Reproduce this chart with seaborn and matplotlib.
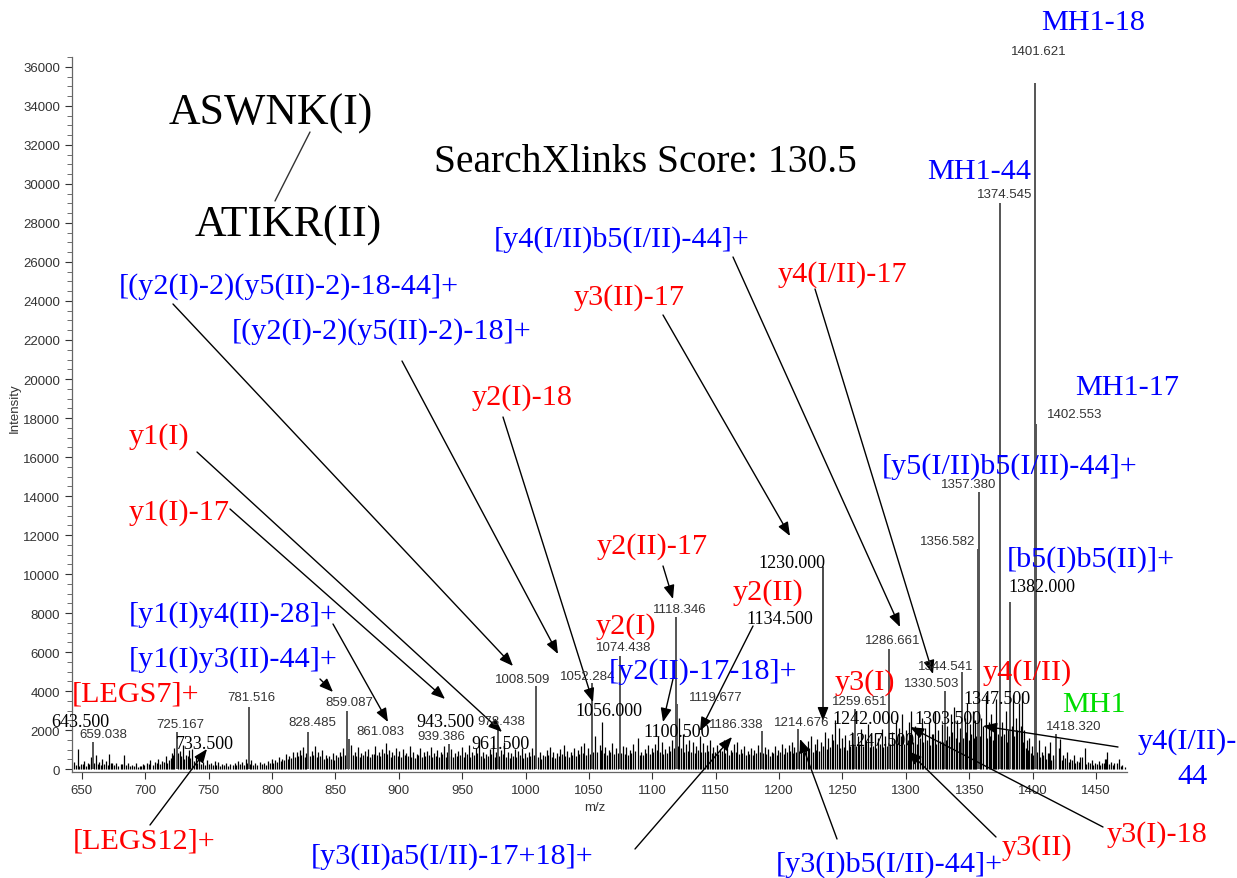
import matplotlib.pyplot as plt
import numpy as np
import pandas as pd
import seaborn as sns

# labelled peaks of the spectrum (m/z, intensity)
peak_mz = [659.038, 725.167, 781.516, 828.485, 859.087, 861.083, 939.386, 978.438,
           1008.509, 1052.284, 1074.438, 1118.346, 1119.677, 1186.338, 1214.676,
           1259.651, 1286.661, 1330.503, 1344.541, 1356.582, 1357.380, 1374.545,
           1382.000, 1401.621, 1402.553, 1418.320]
peak_int = [1380, 1900, 3180, 1900, 2970, 1540, 1280, 2050,
            4250, 4400, 5800, 7800, 3330, 1950, 2050,
            3080, 6150, 4000, 5000, 11300, 14200, 29000,
            8560, 35200, 17700, 1800]

# unlabelled background peaks
noise_mz = [644.2, 646.8, 649.5, 652.1, 655.3, 657.0, 661.4, 663.8, 666.2, 668.9, 671.7, 674.0,
            677.2, 680.6, 683.4, 686.1, 689.5, 692.8, 695.6, 698.3,
            701.5, 704.2, 707.8, 710.3, 713.6, 716.2, 718.9, 721.3, 723.0, 727.4, 729.8, 732.2,
            734.5, 736.9, 739.8, 742.5, 745.6, 748.4, 751.7, 754.9, 757.6, 760.8, 764.0, 767.3,
            770.5, 773.1, 776.4, 779.2, 783.8, 786.5, 790.2, 793.6, 796.9, 799.8,
            802.4, 805.6, 808.3, 811.0, 813.7, 816.4, 819.5, 822.1, 824.6, 826.9, 831.2, 833.8,
            836.5, 839.7, 842.3, 845.1, 848.0, 850.6, 853.4, 856.2, 862.7, 865.3, 867.9, 870.4,
            873.2, 876.0, 878.8, 881.5, 884.1, 886.9, 889.6, 892.3, 895.0, 897.8,
            900.5, 903.2, 906.0, 908.7, 911.4, 914.1, 916.9, 919.6, 922.3, 925.1, 927.8, 930.4,
            933.1, 935.8, 938.0, 941.6, 944.3, 947.0, 949.7, 952.5, 955.2, 958.0, 960.7, 963.4,
            966.1, 968.8, 971.6, 974.3, 977.0, 980.7, 983.4, 986.1, 988.8, 991.5, 994.2, 997.0, 999.7,
            1002.4, 1005.1, 1011.2, 1013.9, 1016.6, 1019.3, 1022.0, 1024.8, 1027.5, 1030.2, 1032.9,
            1035.6, 1038.3, 1041.0, 1043.7, 1046.4, 1049.1, 1055.0, 1058.4, 1060.3, 1063.0, 1065.7,
            1068.4, 1071.1, 1076.8, 1079.5, 1082.2, 1084.9, 1088.6, 1091.3, 1094.0, 1096.7, 1099.4,
            1102.1, 1104.8, 1107.5, 1110.2, 1112.9, 1115.6, 1121.3, 1123.9, 1126.6, 1129.3, 1132.0,
            1134.7, 1137.4, 1140.1, 1142.8, 1145.5, 1148.2, 1150.9, 1153.6, 1156.3, 1159.0, 1161.7,
            1164.4, 1167.1, 1169.8, 1172.5, 1175.2, 1177.9, 1180.6, 1183.3, 1188.7, 1191.4, 1194.1,
            1196.8, 1199.5,
            1202.2, 1204.9, 1207.6, 1210.3, 1212.1, 1217.2, 1219.9, 1222.6, 1225.3, 1228.0, 1230.2,
            1233.4, 1236.1, 1238.8, 1241.5, 1244.2, 1246.9, 1249.6, 1252.3, 1255.0, 1257.3, 1262.0,
            1264.7, 1267.4, 1270.1, 1272.8, 1275.5, 1278.2, 1280.9, 1283.6, 1289.2, 1291.9, 1294.6,
            1297.3, 1300.0,
            1302.7, 1304.4, 1307.1, 1309.8, 1312.5, 1315.2, 1317.9, 1320.6, 1322.8, 1325.5, 1328.2,
            1332.6, 1335.3, 1338.0, 1340.7, 1342.6, 1346.3, 1348.4, 1350.7, 1352.6, 1354.6, 1359.5,
            1362.8, 1365.5, 1367.2, 1369.6, 1371.4, 1376.2, 1378.6, 1380.3, 1384.6, 1386.5, 1389.4,
            1391.6, 1393.5, 1395.8, 1397.4, 1399.3,
            1404.8, 1407.2, 1409.4, 1411.9, 1413.5, 1416.1, 1420.4, 1421.6, 1424.3, 1427.0, 1429.6,
            1432.3, 1435.0, 1437.7, 1441.0, 1443.8, 1446.5, 1449.2, 1452.0, 1454.7, 1457.3, 1459.0,
            1461.8, 1464.5, 1468.0, 1470.8]
noise_int = [350, 1050, 250, 420, 300, 600, 700, 350, 520, 420, 750, 300,
             320, 260, 700, 330, 220, 300, 180, 260,
             300, 450, 350, 520, 400, 650, 480, 820, 1100, 950, 1250, 700,
             980, 1050, 600, 500, 380, 450, 300, 420, 350, 280, 330, 260,
             300, 420, 350, 500, 450, 300, 380, 330, 420, 500,
             450, 600, 520, 750, 680, 900, 850, 1000, 1150, 800, 950, 1200,
             850, 1000, 700, 650, 820, 700, 900, 1100, 1250, 900, 1150, 800,
             950, 1050, 750, 1200, 900, 1050, 1350, 1000, 850, 1100,
             950, 1050, 800, 1200, 900, 750, 1100, 850, 950, 1150, 800, 1000,
             900, 1200, 850, 1050, 800, 950, 1150, 900, 1250, 850, 1100, 1550,
             900, 750, 1050, 1250, 900, 1000, 1400, 850, 800, 1050, 950, 1100, 800,
             900, 1100, 850, 700, 1000, 1150, 850, 800, 1050, 1250, 950,
             900, 1100, 1000, 1200, 1350, 1100, 1700, 1250, 2400, 1150, 1000,
             1350, 1100, 1200, 1150, 1000, 1300, 1600, 900, 1050, 1250, 1100,
             1300, 1700, 1400, 1050, 1200, 1500, 2600, 1800, 1300, 1500, 1400,
             1200, 1700, 1350, 1250, 1500, 1150, 1250, 1050, 1500, 1100, 1000,
             1300, 1400, 1050, 1200, 950, 1100, 1000, 1250, 1150, 1050, 900,
             1200, 1000,
             1300, 1100, 1250, 1400, 1150, 1300, 1150, 1450, 1700, 1300, 1550,
             1400, 1900, 1600, 1800, 2500, 2100, 1600, 1750, 1500, 1900, 1700,
             2050, 1800, 2300, 1700, 1850, 1600, 2050, 1700, 1900, 2500, 2100,
             2800, 2000,
             2400, 3000, 2200, 1900, 2600, 2100, 2400, 1800, 3000, 2000, 2300,
             2200, 2800, 3200, 2500, 2100, 2600, 3400, 2300, 3000, 2500, 2600,
             3800, 2400, 2800, 2200, 3600, 2400, 3000, 2000, 3800, 2600, 3400,
             3900, 2000, 1500, 1600, 1200,
             1500, 900, 1200, 800, 1400, 700, 1100, 1530, 700, 900, 500,
             700, 400, 600, 1100, 350, 450, 300, 400, 300, 500, 850,
             350, 300, 500, 200]

# low "grass" between the background peaks, as (m/z, intensity)
grass = [(645.5, 200), (648.0, 150), (650.8, 280), (653.7, 180), (656.1, 250), (659.9, 300),
         (662.6, 250), (665.0, 220), (667.5, 280), (670.3, 200), (672.8, 300), (675.6, 200),
         (678.9, 180), (682.0, 250), (684.7, 220), (687.8, 180), (691.1, 150), (694.2, 130),
         (697.0, 160), (699.2, 200),
         (703.0, 250), (706.0, 200), (709.0, 300), (712.0, 250), (715.0, 380), (717.5, 300),
         (720.1, 550), (722.2, 700), (725.8, 800), (728.6, 650), (731.0, 500), (733.4, 650),
         (735.7, 550), (738.3, 400), (741.2, 320), (744.0, 280), (747.0, 220), (750.0, 250),
         (753.3, 200), (756.2, 220), (759.2, 180), (762.4, 200), (765.6, 170), (768.9, 190),
         (771.8, 210), (774.8, 260), (777.8, 220), (780.4, 300), (782.6, 260), (785.1, 220),
         (788.3, 230), (791.9, 250), (795.2, 210), (798.4, 300),
         (801.1, 300), (804.0, 380), (807.0, 420), (809.6, 450), (812.3, 520), (815.0, 560),
         (818.0, 620), (820.8, 650), (823.3, 720), (825.8, 600), (829.9, 650), (832.5, 720),
         (835.2, 600), (838.1, 650), (841.0, 520), (843.7, 550), (846.5, 500), (849.3, 480),
         (852.0, 600), (854.8, 650), (857.8, 700), (860.2, 850), (864.0, 700), (866.6, 650),
         (869.1, 620), (871.8, 700), (874.6, 650), (877.4, 600), (880.1, 750), (882.8, 700),
         (885.5, 650), (888.2, 800), (890.9, 750), (893.6, 620), (896.4, 700), (899.1, 650),
         (901.8, 600), (904.6, 700), (907.3, 650), (910.0, 600), (912.7, 550), (915.5, 700),
         (918.2, 600), (920.9, 650), (923.7, 700), (926.4, 600), (929.1, 650), (931.7, 600),
         (934.4, 750), (936.9, 600), (939.9, 650), (942.9, 600), (945.6, 650), (948.3, 700),
         (951.1, 600), (953.8, 750), (956.6, 600), (959.3, 700), (962.0, 800), (964.7, 650),
         (967.4, 550), (970.2, 650), (972.9, 750), (975.6, 600), (978.9, 650), (982.0, 750),
         (984.7, 600), (987.4, 550), (990.1, 650), (992.8, 600), (995.6, 700), (998.3, 550),
         (1001.0, 600), (1003.7, 650), (1006.5, 700), (1009.8, 600), (1012.5, 500), (1015.2, 650),
         (1017.9, 700), (1020.6, 600), (1023.4, 550), (1026.1, 650), (1028.8, 750), (1031.5, 650),
         (1034.2, 600), (1036.9, 700), (1039.6, 650), (1042.3, 750), (1045.0, 800), (1047.7, 700),
         (1050.5, 750), (1053.5, 900), (1056.7, 850), (1059.3, 1000), (1061.6, 800), (1064.3, 700),
         (1067.0, 850), (1069.7, 750), (1072.6, 800), (1075.5, 800), (1078.1, 750), (1080.8, 700),
         (1083.5, 800), (1086.7, 950), (1089.9, 700), (1092.6, 700), (1095.3, 800), (1098.0, 750),
         (1100.7, 850), (1103.4, 1000), (1106.1, 900), (1108.8, 750), (1111.5, 800), (1114.2, 950),
         (1117.0, 1100), (1120.5, 1200), (1122.6, 1100), (1125.2, 900), (1127.9, 950), (1130.6, 900),
         (1133.3, 800), (1136.0, 1000), (1138.7, 900), (1141.4, 850), (1144.1, 950), (1146.8, 800),
         (1149.5, 850), (1152.2, 750), (1154.9, 950), (1157.6, 800), (1160.3, 700), (1163.0, 850),
         (1165.7, 900), (1168.4, 750), (1171.1, 800), (1173.8, 700), (1176.5, 750), (1179.2, 700),
         (1182.0, 800), (1185.0, 850), (1187.5, 800), (1190.0, 750), (1192.7, 650), (1195.4, 800),
         (1198.1, 700),
         (1200.8, 850), (1203.5, 750), (1206.2, 850), (1208.9, 950), (1211.2, 800), (1213.5, 900),
         (1215.8, 950), (1218.5, 850), (1221.2, 1000), (1223.9, 1100), (1226.6, 900), (1229.1, 1000),
         (1231.8, 950), (1234.7, 1200), (1237.4, 1050), (1240.1, 1150), (1242.8, 1500), (1245.5, 1300),
         (1248.2, 1100), (1250.9, 1150), (1253.6, 1000), (1256.1, 1200), (1258.5, 1300), (1260.8, 1200),
         (1263.3, 1300), (1266.0, 1200), (1268.7, 1450), (1271.4, 1150), (1274.1, 1200), (1276.8, 1100),
         (1279.5, 1300), (1282.2, 1150), (1285.0, 1200), (1287.8, 1300), (1290.5, 1500), (1293.2, 1350),
         (1295.9, 1700), (1298.6, 1300),
         (1301.3, 1500), (1303.5, 1800), (1305.7, 1400), (1308.4, 1300), (1311.1, 1600), (1313.8, 1400),
         (1316.5, 1500), (1319.2, 1250), (1321.7, 1800), (1324.1, 1300), (1326.8, 1450), (1329.4, 1400),
         (1331.4, 1500), (1334.0, 1700), (1336.6, 1900), (1339.3, 1600), (1341.6, 1400), (1343.5, 1700),
         (1345.3, 1600), (1347.3, 1900), (1349.5, 1500), (1351.6, 1800), (1353.6, 1600), (1355.5, 1700),
         (1358.4, 1700), (1361.1, 2200), (1364.1, 1600), (1366.3, 1700), (1368.4, 1500), (1370.5, 2100),
         (1373.0, 1800), (1375.3, 1700), (1377.4, 1800), (1379.5, 1400), (1381.2, 1500), (1383.4, 2200),
         (1385.6, 1700), (1388.0, 2000), (1390.5, 2200), (1392.5, 1400), (1394.6, 1100), (1396.6, 1000),
         (1398.3, 800),
         (1400.5, 700), (1403.6, 900), (1406.0, 600), (1408.3, 700), (1410.6, 500), (1412.7, 800),
         (1414.8, 450), (1418.0, 500), (1423.0, 450), (1425.6, 550), (1428.3, 350), (1431.0, 450),
         (1433.6, 300), (1436.4, 350), (1439.3, 600), (1442.4, 250), (1445.1, 300), (1447.8, 200),
         (1450.6, 250), (1453.3, 200), (1456.0, 300), (1458.1, 500), (1460.4, 250), (1463.1, 200),
         (1466.2, 300), (1469.4, 150), (1472.5, 120)]

# peak labels written by the acquisition software
soft_labels = ["1401.621", "1374.545", "1402.553", "1357.380", "1356.582", "1286.661",
               "1344.541", "1330.503", "1259.651", "1418.320", "1118.346", "1074.438",
               "1008.509", "1052.284", "1119.677", "1186.338", "1214.676", "978.438",
               "939.386", "659.038", "725.167", "781.516", "828.485", "859.087", "861.083"]
# m/z values typed in by the author
typed_labels = ["643.500", "733.500", "943.500", "961.500", "1056.000", "1100.500",
                "1134.500", "1230.000", "1242.000", "1247.500", "1303.500", "1347.500",
                "1382.000"]
# fragment assignments
blue_labels = ["[(y2(I)-2)(y5(II)-2)-18-44]+", "[(y2(I)-2)(y5(II)-2)-18]+",
               "[y4(I/II)b5(I/II)-44]+", "MH1-18", "MH1-44", "MH1-17",
               "[y5(I/II)b5(I/II)-44]+", "[b5(I)b5(II)]+", "y4(I/II)-", "44",
               "[y1(I)y4(II)-28]+", "[y1(I)y3(II)-44]+", "[y2(II)-17-18]+",
               "[y3(II)a5(I/II)-17+18]+", "[y3(I)b5(I/II)-44]+"]
red_labels = ["y4(I/II)-17", "y3(II)-17", "y2(I)-18", "y1(I)", "y1(I)-17", "y2(II)-17",
              "y2(I)", "y2(II)", "y3(I)", "y4(I/II)", "[LEGS7]+", "[LEGS12]+",
              "y3(II)", "y3(I)-18"]
green_labels = ["MH1"]

W, H = 1237, 879

# label positions, image pixels (x, y from top)
soft_pos = [(1039, 52), (1005, 195), (1075, 415), (969, 485), (948, 542), (893, 641),
            (946, 667), (932, 684), (860, 702), (1074, 727), (680, 610), (624, 648),
            (523, 680), (588, 677), (716, 698), (736, 725), (802, 723), (501, 722),
            (441, 737), (103, 735), (180, 725), (251, 698), (312, 723), (349, 703), (380, 732)]
typed_pos = [(80, 723), (205, 745), (445, 723), (501, 745), (609, 712), (677, 733),
             (780, 620), (792, 563), (866, 720), (881, 742), (948, 720), (997, 700),
             (1042, 587)]
blue_pos = [(289, 287), (382, 332), (622, 240), (1093, 23), (979, 172), (1127, 388),
            (1010, 467), (1091, 560), (1187, 742), (1192, 777),
            (233, 615), (233, 660), (703, 672), (452, 857), (889, 865)]
red_pos = [(842, 275), (629, 298), (522, 398), (159, 437), (179, 513), (652, 547),
           (626, 627), (768, 593), (865, 683), (1027, 673), (136, 695), (144, 842),
           (1037, 848), (1157, 835)]
green_pos = [(1094, 705)]

# arrows: tail -> head, image pixels
arrows = [((173, 305), (513, 667)), ((402, 362), (558, 655)), ((503, 418), (593, 703)),
          ((733, 258), (900, 628)), ((663, 316), (790, 537)), ((815, 290), (933, 675)),
          ((1118, 748), (983, 727)), ((197, 453), (502, 733)), ((230, 510), (445, 700)),
          ((333, 625), (388, 723)), ((320, 680), (333, 693)), ((663, 567), (673, 600)),
          ((753, 627), (700, 732)), ((673, 680), (663, 723)), ((823, 568), (823, 722)),
          ((150, 826), (207, 750)), ((635, 850), (732, 738)), ((837, 840), (800, 740)),
          ((996, 838), (908, 752)), ((1103, 828), (910, 728))]

serif = ["Liberation Serif", "DejaVu Serif"]
sans = ["Liberation Sans", "DejaVu Sans"]

sns.set_theme(style="ticks")
plt.rcParams["font.family"] = sans

grass_mz = [g[0] for g in grass]
grass_int = [g[1] for g in grass]
peaks = pd.DataFrame({"mz": grass_mz + noise_mz + peak_mz,
                      "intensity": grass_int + noise_int + peak_int,
                      "kind": ["noise"] * (len(grass_mz) + len(noise_mz)) + ["label"] * len(peak_mz)})

fig = plt.figure(figsize=(W / 100, H / 100), dpi=100)
fig.patch.set_facecolor("white")
ax = fig.add_axes([72 / W, 1 - 773 / H, (1127 - 72) / W, (773 - 58.2) / H])
ax.set_facecolor("white")

noise = peaks[peaks["kind"] == "noise"]
main = peaks[peaks["kind"] == "label"]
ax.vlines(noise["mz"], 0, noise["intensity"], color="black", lw=0.9)
ax.vlines(main["mz"], 0, main["intensity"], color="#555555", lw=1.4)

ax.set_xlim(642.3, 1474.4)
ax.set_ylim(-150, 36500)
ax.set_xticks(np.arange(650, 1451, 50))
ax.set_yticks(np.arange(0, 36001, 2000))
ax.set_yticks(np.arange(0, 36501, 500), minor=True)
ax.tick_params(axis="both", which="major", labelsize=9.5, colors="#333333", length=5, width=0.8)
ax.tick_params(axis="y", which="minor", length=3.5, width=0.6, color="#555555")
sns.despine(ax=ax)
for side in ["left", "bottom"]:
    ax.spines[side].set_color("#666666")
    ax.spines[side].set_linewidth(0.9)

ax.set_xlabel("m/z", fontsize=9.5, color="#333333")
ax.xaxis.set_label_coords((595 - 72) / (1127 - 72), -(802 - 773) / (773 - 58.2))
ax.set_ylabel("Intensity", fontsize=9.5, color="#333333")
ax.yaxis.set_label_coords(-(72 - 21) / (1127 - 72), (773 - 408) / (773 - 58.2))


def put(text, pos, **kw):
    fig.text(pos[0] / W, 1 - pos[1] / H, text, ha="center", va="center", **kw)


# peptide pair and score
put("ASWNK(I)", (271, 114), fontsize=31.5, family=serif, color="black")
put("ATIKR(II)", (288, 226), fontsize=31.5, family=serif, color="black")
put("SearchXlinks Score: 130.5", (645, 163), fontsize=28.5, family=serif, color="black")
fig.add_artist(plt.Line2D([310 / W, 275 / W], [1 - 133 / H, 1 - 202 / H], color="#333333", lw=1))

for t, p in zip(soft_labels, soft_pos):
    put(t, p, fontsize=9.5, family=sans, color="#333333")
for t, p in zip(typed_labels, typed_pos):
    put(t, p, fontsize=13, family=serif, color="black")
for t, p in zip(blue_labels, blue_pos):
    put(t, p, fontsize=21.7, family=serif, color="#0000ff")
for t, p in zip(red_labels, red_pos):
    put(t, p, fontsize=21.7, family=serif, color="#ff0000")
for t, p in zip(green_labels, green_pos):
    put(t, p, fontsize=21.7, family=serif, color="#00dd00")

for tail, head in arrows:
    ax.annotate("", xy=(head[0], H - head[1]), xytext=(tail[0], H - tail[1]),
                xycoords="figure pixels", textcoords="figure pixels",
                arrowprops=dict(arrowstyle="-|>,head_length=0.55,head_width=0.22",
                                mutation_scale=15, color="black", lw=1.0,
                                shrinkA=0, shrinkB=0),
                annotation_clip=False)

fig.savefig("out.png", dpi=100)
